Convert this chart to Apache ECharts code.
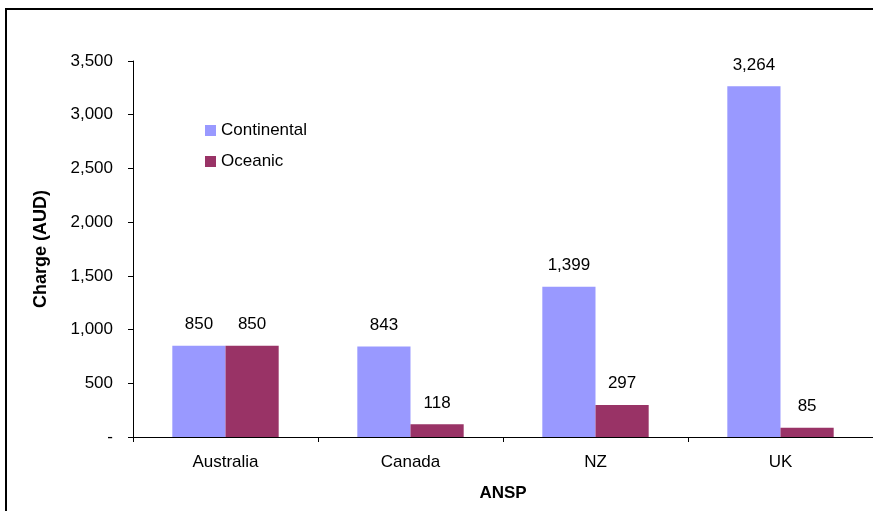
<!DOCTYPE html>
<html>
<head>
    <meta charset="utf-8">
    <title>Charge by ANSP</title>
    <script src="https://cdn.jsdelivr.net/npm/echarts@6/dist/echarts.min.js"></script>
    <style>
        html, body { margin: 0; padding: 0; background: #fff; }
        #main { width: 873px; height: 511px; }
    </style>
</head>
<body>
<div id="main"></div>
<script>
    // data
    var categories = ['Australia', 'Canada', 'NZ', 'UK'];
    var continental = [850, 843, 1399, 3264];
    var oceanic = [850, 118, 297, 85];

    var font = 'Liberation Sans';
    var myChart = echarts.init(document.getElementById('main'));

    function fmt(v) {
        return v === 0 ? '-' : v.toLocaleString('en-US');
    }

    var barLabel = {
        show: true,
        position: 'top',
        distance: 13,
        color: '#000',
        fontFamily: font,
        fontSize: 17,
        formatter: function (p) { return fmt(p.value); }
    };

    myChart.setOption({
        animation: false,
        backgroundColor: '#fff',
        graphic: [{
            type: 'rect',
            shape: { x: 6, y: 9, width: 900, height: 600 },
            style: { fill: 'none', stroke: '#000', lineWidth: 2 },
            silent: true
        }],
        legend: {
            orient: 'vertical',
            left: 200,
            top: 117,
            itemWidth: 11,
            itemHeight: 11,
            itemGap: 14,
            icon: 'rect',
            textStyle: { fontFamily: font, fontSize: 17, color: '#000' },
            data: ['Continental', 'Oceanic']
        },
        grid: { left: 133, right: -2, top: 61, bottom: 74 },
        xAxis: {
            type: 'category',
            data: categories,
            name: 'ANSP',
            nameLocation: 'middle',
            nameGap: 48,
            nameTextStyle: { fontFamily: font, fontSize: 17, fontWeight: 'bold', color: '#000' },
            axisLine: { lineStyle: { color: '#000', width: 1 } },
            axisTick: { show: true, length: 5, lineStyle: { color: '#000' } },
            axisLabel: { fontFamily: font, fontSize: 17, color: '#000', margin: 17 }
        },
        yAxis: {
            type: 'value',
            min: 0,
            max: 3500,
            interval: 500,
            name: 'Charge (AUD)',
            nameLocation: 'middle',
            nameGap: 83,
            nameTextStyle: { fontFamily: font, fontSize: 18, fontWeight: 'bold', color: '#000' },
            axisLine: { show: true, lineStyle: { color: '#000', width: 1 } },
            axisTick: { show: true, length: 5, lineStyle: { color: '#000' } },
            axisLabel: { fontFamily: font, fontSize: 17, color: '#000', margin: 20, formatter: fmt },
            splitLine: { show: false }
        },
        series: [{
            name: 'Continental',
            type: 'bar',
            data: continental,
            barGap: '0%',
            barCategoryGap: '42.5%',
            itemStyle: { color: '#9999FF' },
            label: barLabel
        }, {
            name: 'Oceanic',
            type: 'bar',
            data: oceanic,
            barGap: '0%',
            barCategoryGap: '42.5%',
            itemStyle: { color: '#993366' },
            label: barLabel
        }]
    });
</script>
</body>
</html>
